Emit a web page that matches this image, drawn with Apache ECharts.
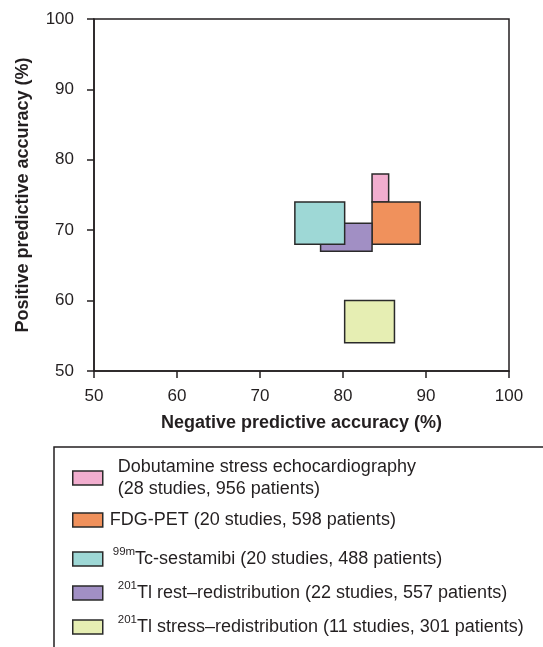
<!DOCTYPE html>
<html>
<head>
<meta charset="utf-8">
<script src="https://cdn.jsdelivr.net/npm/echarts@6/dist/echarts.min.js"></script>
<style>
  html, body { margin: 0; padding: 0; background: #fff; }
  #chart { width: 543px; height: 647px; }
</style>
</head>
<body>
<div id="chart"></div>
<script>
// techniques (series names)
var names = [
  'Dobutamine stress echocardiography',
  'FDG-PET',
  '99mTc-sestamibi',
  '201Tl rest-redistribution',
  '201Tl stress-redistribution'
];
// legend labels (rich text for superscripts)
var labels = [
  'Dobutamine stress echocardiography\n(28 studies, 956 patients)',
  'FDG-PET (20 studies, 598 patients)',
  '{sup|99m}Tc-sestamibi (20 studies, 488 patients)',
  '{sup|201}Tl rest\u2013redistribution (22 studies, 557 patients)',
  '{sup|201}Tl stress\u2013redistribution (11 studies, 301 patients)'
];
// negative predictive accuracy range (%)
var npaLow  = [83.5, 83.5, 74.2, 77.3, 80.2];
var npaHigh = [85.5, 89.3, 80.2, 83.5, 86.2];
// positive predictive accuracy range (%)
var ppaLow  = [74, 68, 68, 67, 54];
var ppaHigh = [78, 74, 74, 71, 60];
var colors = ['#f2aecf', '#f0915c', '#9ed8d6', '#a18fc4', '#e6eeb3'];

var font = '"Liberation Sans", Arial, Helvetica, sans-serif';
var ink = '#231f20';

var chart = echarts.init(document.getElementById('chart'));

// draw order: teal over purple
var drawOrder = [0, 1, 3, 2, 4];

var series = drawOrder.map(function (i) {
  return {
    name: names[i],
    type: 'custom',
    itemStyle: { color: colors[i] },
    encode: { x: [0, 1], y: [2, 3] },
    data: [[npaLow[i], npaHigh[i], ppaLow[i], ppaHigh[i]]],
    renderItem: function (params, api) {
      var topLeft = api.coord([api.value(0), api.value(3)]);
      var bottomRight = api.coord([api.value(1), api.value(2)]);
      return {
        type: 'rect',
        shape: {
          x: topLeft[0],
          y: topLeft[1],
          width: bottomRight[0] - topLeft[0],
          height: bottomRight[1] - topLeft[1]
        },
        style: { fill: api.visual('color'), stroke: '#2a2a2a', lineWidth: 1.5 }
      };
    }
  };
});

// one legend per entry so each row can sit where it does in the figure
var legendTops = [456, 509, 546, 580, 614];
var legendPadLeft = [10, 2, 5, 10, 10];
var legendLineH = [22, 22, 26, 26, 26];
var legends = names.map(function (n, i) {
  return {
    left: 72,
    top: legendTops[i],
    padding: 0,
    selectedMode: false,
    itemWidth: 30,
    itemHeight: 14,
    data: [{
      name: n,
      icon: 'rect',
      itemStyle: { color: colors[i], borderColor: '#2a2a2a', borderWidth: 1.5 }
    }],
    formatter: function () { return labels[i]; },
    textStyle: {
      fontFamily: font,
      fontSize: 18,
      color: ink,
      lineHeight: legendLineH[i],
      padding: [0, 0, 0, legendPadLeft[i]],
      rich: {
        sup: { fontFamily: font, fontSize: 11.5, lineHeight: 12, color: ink, verticalAlign: 'top' }
      }
    }
  };
});

var option = {
  animation: false,
  backgroundColor: '#fff',
  grid: {
    left: 94, top: 19, width: 415, height: 352,
    show: true, borderColor: ink, borderWidth: 1.5, backgroundColor: 'transparent'
  },
  xAxis: {
    type: 'value',
    min: 50, max: 100, interval: 10,
    name: 'Negative predictive accuracy (%)',
    nameLocation: 'middle',
    nameGap: 43,
    nameTextStyle: { fontFamily: font, fontSize: 18, fontWeight: 'bold', color: ink },
    axisLine: { show: true, lineStyle: { color: ink, width: 1.5 } },
    axisTick: { show: true, length: 7, lineStyle: { color: ink, width: 1.5 } },
    axisLabel: { margin: 17, fontFamily: font, fontSize: 17, color: ink },
    splitLine: { show: false }
  },
  yAxis: {
    type: 'value',
    min: 50, max: 100, interval: 10,
    name: 'Positive predictive accuracy (%)',
    nameLocation: 'middle',
    nameGap: 62,
    nameTextStyle: { fontFamily: font, fontSize: 18, fontWeight: 'bold', color: ink },
    axisLine: { show: true, lineStyle: { color: ink, width: 1.5 } },
    axisTick: { show: true, length: 7, lineStyle: { color: ink, width: 1.5 } },
    axisLabel: { margin: 20, fontFamily: font, fontSize: 17, color: ink },
    splitLine: { show: false }
  },
  legend: legends,
  graphic: [{
    type: 'rect',
    silent: true,
    shape: { x: 54, y: 447, width: 600, height: 300 },
    style: { fill: 'none', stroke: ink, lineWidth: 1.5 }
  }],
  series: series
};

chart.setOption(option);
window.addEventListener('resize', chart.resize);
</script>
</body>
</html>
